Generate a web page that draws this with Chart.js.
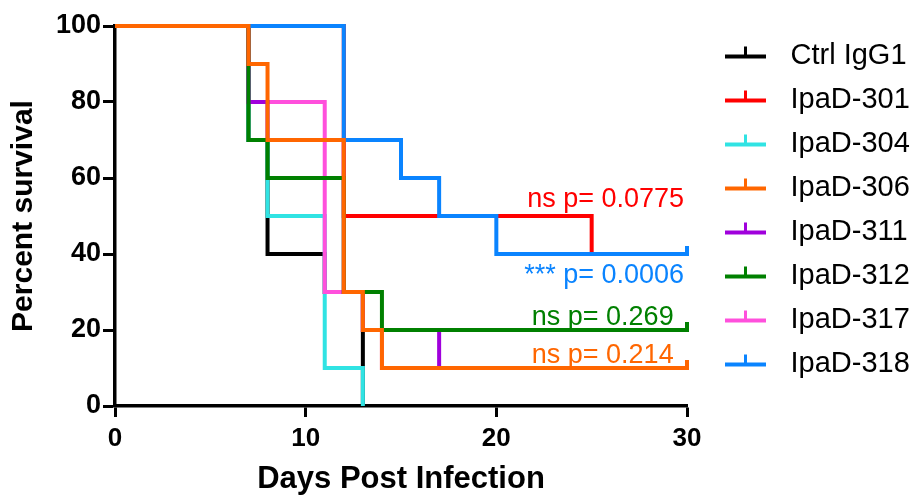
<!DOCTYPE html>
<html>
<head>
<meta charset="utf-8">
<title>Survival</title>
<script src="https://cdn.jsdelivr.net/npm/chart.js@4.4.1/dist/chart.umd.min.js"></script>
<style>
    html, body { margin: 0; padding: 0; background: #fff; }
    #wrap { width: 923px; height: 501px; position: relative; }
</style>
</head>
<body>
<div id="wrap"><canvas id="survChart"></canvas></div>
<script>
// Kaplan-Meier steps: day of each drop and survival (%) after it
const ctrlDays = [0, 7, 8, 11, 13]
const ctrlSurv = [100, 70, 40, 30, 0]
const d301Days = [0, 12, 25, 30]
const d301Surv = [100, 50, 40, 40]
const d304Days = [0, 7, 8, 11, 13]
const d304Surv = [100, 70, 50, 10, 0]
const d306Days = [0, 7, 8, 12, 13, 14, 30]
const d306Surv = [100, 90, 70, 30, 20, 10, 10]
const d311Days = [0, 7, 8, 12, 13, 17, 30]
const d311Surv = [100, 80, 70, 30, 20, 10, 10]
const d312Days = [0, 7, 8, 12, 14, 30]
const d312Surv = [100, 70, 60, 30, 20, 20]
const d317Days = [0, 7, 11, 13, 14, 30]
const d317Surv = [100, 80, 30, 20, 10, 10]
const d318Days = [0, 12, 15, 17, 20, 30]
const d318Surv = [100, 70, 60, 50, 40, 40]

const groupNames = ['Ctrl IgG1', 'IpaD-301', 'IpaD-304', 'IpaD-306', 'IpaD-311', 'IpaD-312', 'IpaD-317', 'IpaD-318']
const groupColors = ['#000000', '#ff0000', '#30e3e3', '#ff6600', '#a000dc', '#008000', '#ff50dc', '#0a84ff']
const groupDays = [ctrlDays, d301Days, d304Days, d306Days, d311Days, d312Days, d317Days, d318Days]
const groupSurv = [ctrlSurv, d301Surv, d304Surv, d306Surv, d311Surv, d312Surv, d317Surv, d318Surv]
// lower number is painted on top
const groupLayer = [6, 7, 5, 0, 3, 2, 4, 1]

const dayTicks = [0, 10, 20, 30]
const survTicks = [0, 20, 40, 60, 80, 100]
const endDay = 30

// p-value notes (text, colour, anchor day / percent for the right end of the baseline)
const noteTexts = ['ns p= 0.0775', '*** p= 0.0006', 'ns p= 0.269', 'ns p= 0.214']
const noteColors = ['#ff0000', '#0a84ff', '#008000', '#ff6600']
const noteDay = [29.85, 29.85, 29.3, 29.3]
const noteSurv = [52.3, 32.4, 21.4, 11.4]

const fontFam = '"Liberation Sans", Arial, sans-serif'

function legendIcon(color) {
    const c = document.createElement('canvas')
    c.width = 64
    c.height = 24
    const g = c.getContext('2d')
    g.fillStyle = color
    g.fillRect(18, 11, 41, 4)
    g.fillRect(37, 3, 3, 9)
    return c
}

function censorMark(color) {
    const c = document.createElement('canvas')
    c.width = 4
    c.height = 24
    const g = c.getContext('2d')
    g.fillStyle = color
    g.fillRect(0, 4, 4, 10)
    return c
}

const legendIcons = groupColors.map(legendIcon)

const datasets = groupNames.map((name, i) => {
    const days = groupDays[i]
    const last = days.length - 1
    return {
        label: name,
        data: days.map((d, k) => ({ x: d, y: groupSurv[i][k] })),
        borderColor: groupColors[i],
        backgroundColor: groupColors[i],
        borderWidth: 4,
        stepped: true,
        fill: false,
        tension: 0,
        order: groupLayer[i],
        clip: 8,
        pointStyle: censorMark(groupColors[i]),
        pointRadius: ctx => (ctx.dataIndex === last && days[last] === endDay ? 4 : 0),
        pointHoverRadius: 0
    }
})

const pValuePlugin = {
    id: 'pValues',
    afterDatasetsDraw(chart) {
        const { ctx, scales: { x, y } } = chart
        ctx.save()
        ctx.font = '27px ' + fontFam
        ctx.textAlign = 'right'
        ctx.textBaseline = 'alphabetic'
        noteTexts.forEach((t, i) => {
            ctx.fillStyle = noteColors[i]
            ctx.fillText(t, x.getPixelForValue(noteDay[i]), y.getPixelForValue(noteSurv[i]))
        })
        ctx.restore()
    }
}

const axisLine = { display: true, color: '#000', width: 3.5 }

new Chart(document.getElementById('survChart'), {
    type: 'line',
    data: { datasets: datasets },
    options: {
        responsive: true,
        maintainAspectRatio: false,
        animation: false,
        events: [],
        layout: {
            padding: { top: 26, right: 7, left: 0, bottom: 0 }
        },
        plugins: {
            tooltip: { enabled: false },
            legend: {
                position: 'right',
                align: 'start',
                labels: {
                    usePointStyle: true,
                    pointStyleWidth: 74,
                    padding: 15,
                    color: '#000',
                    font: { family: fontFam, size: 29 },
                    sort: (a, b) => a.datasetIndex - b.datasetIndex,
                    generateLabels: chart => Chart.defaults.plugins.legend.labels.generateLabels(chart).map(item => {
                        item.pointStyle = legendIcons[item.datasetIndex]
                        return item
                    })
                }
            }
        },
        scales: {
            x: {
                type: 'linear',
                min: 0,
                max: 30,
                afterBuildTicks: axis => { axis.ticks = dayTicks.map(v => ({ value: v })) },
                afterFit: axis => { axis.height = 95 },
                border: axisLine,
                grid: { drawOnChartArea: false, drawTicks: true, tickLength: 11, tickWidth: 3, tickColor: '#000' },
                ticks: {
                    color: '#000',
                    padding: 6,
                    maxRotation: 0,
                    font: { family: fontFam, size: 26, weight: 'bold' }
                },
                title: {
                    display: true,
                    text: 'Days Post Infection',
                    color: '#000',
                    padding: { top: 0, bottom: 3 },
                    font: { family: fontFam, size: 31, weight: 'bold' }
                }
            },
            y: {
                min: 0,
                max: 100,
                afterBuildTicks: axis => { axis.ticks = survTicks.map(v => ({ value: v })) },
                afterFit: axis => { axis.width = 115 },
                border: axisLine,
                grid: { drawOnChartArea: false, drawTicks: true, tickLength: 12, tickWidth: 3, tickColor: '#000' },
                ticks: {
                    color: '#000',
                    padding: 2,
                    font: { family: fontFam, size: 27, weight: 'bold' }
                },
                title: {
                    display: true,
                    text: 'Percent survival',
                    color: '#000',
                    padding: { top: 6, bottom: 0 },
                    font: { family: fontFam, size: 30, weight: 'bold' }
                }
            }
        }
    },
    plugins: [pValuePlugin]
})
</script>
</body>
</html>
